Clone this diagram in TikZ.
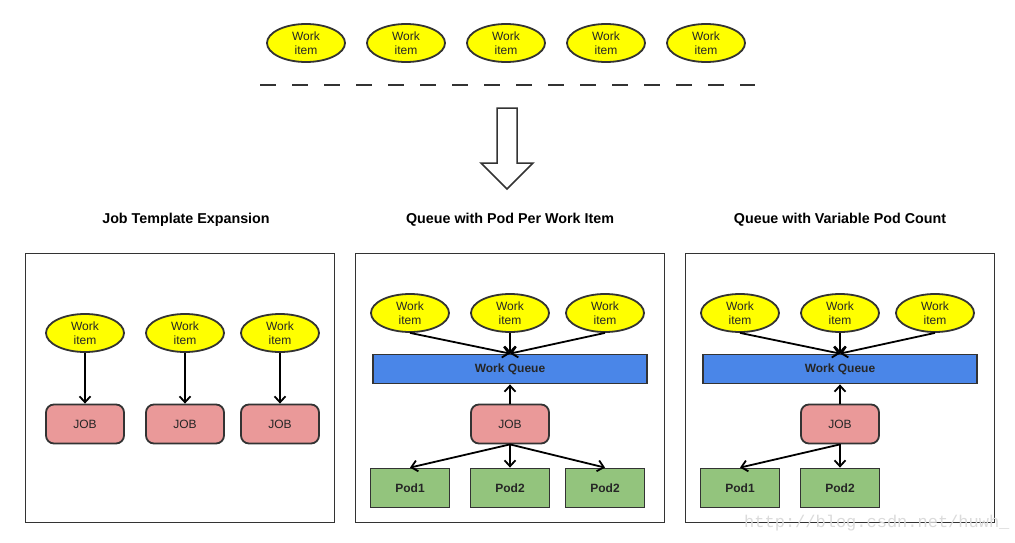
\documentclass[tikz,border=0pt]{standalone}
\usepackage{fontspec}
\setmainfont{Liberation Sans}
\newfontfamily\wmfont{Liberation Mono}
\usetikzlibrary{shapes.geometric,arrows.meta}
\definecolor{edge}{HTML}{333333}
\definecolor{wiyellow}{HTML}{FFFF00}
\definecolor{wqblue}{HTML}{4A86E8}
\definecolor{jobred}{HTML}{EA9999}
\definecolor{podgreen}{HTML}{93C47D}
\tikzset{
  witem/.style={ellipse, draw=edge, line width=1.8pt, fill=wiyellow, minimum width=78pt, minimum height=38pt, inner sep=0pt, align=center, font=\fontsize{12}{13.5}\selectfont, text=black!85},
  jobbox/.style={rectangle, rounded corners=8pt, draw=edge, line width=1.8pt, fill=jobred, minimum width=78pt, minimum height=39pt, font=\fontsize{12}{13}\selectfont, text=black!85},
  podbox/.style={rectangle, draw=edge, line width=1.8pt, fill=podgreen, minimum width=79pt, minimum height=39pt, font=\bfseries\fontsize{12}{13}\selectfont, text=black!85},
  queuebox/.style={rectangle, draw=edge, line width=1.8pt, fill=wqblue, minimum width=274pt, minimum height=29pt, font=\bfseries\fontsize{12}{13}\selectfont, text=black!85},
  panel/.style={rectangle, draw=edge, line width=1.8pt, minimum width=309pt, minimum height=269pt},
  ptitle/.style={font=\bfseries\fontsize{14.3}{16}\selectfont, text=black},
  conn/.style={line width=1.8pt, -{Straight Barb[length=6pt,width=11pt,line width=1.8pt]}},
}
\begin{document}
\begin{tikzpicture}[x=1pt,y=-1pt]
\useasboundingbox[fill=white] (0,0) rectangle (1015,543);
% top work items
\foreach \i/\x in {1/306,2/406,3/506,4/606,5/706}{
  \node[witem] (t\i) at (\x,43) {Work\\item};
}
\coordinate (dl) at (260,85);
\coordinate (dr) at (755,85);
\draw[line width=2pt, edge, dash pattern=on 16pt off 16pt] (dl) -- (dr);
% big arrow
\draw[line width=1.5pt, edge, fill=white] (497,108) -- (517,108) -- (517,163) -- (533,163) -- (507,189) -- (481,163) -- (497,163) -- cycle;
% titles
\node[ptitle] (h1) at (186,220) {Job Template Expansion};
\node[ptitle] (h2) at (510,220) {Queue with Pod Per Work Item};
\node[ptitle] (h3) at (840,220) {Queue with Variable Pod Count};
% panels
\node[panel] (p1) at (180,388) {};
\node[panel] (p2) at (510,388) {};
\node[panel] (p3) at (840,388) {};
% panel 1
\foreach \i/\x in {1/85,2/185,3/280}{
  \node[witem] (a\i) at (\x,333) {Work\\item};
  \node[jobbox] (j\i) at (\x,424) {JOB};
  \draw[conn] (a\i) -- (j\i);
}
% panel 2
\node[queuebox] (q2) at (510,369) {Work Queue};
\foreach \i/\x in {1/410,2/510,3/605}{
  \node[witem] (b\i) at (\x,313) {Work\\item};
  \draw[conn] (b\i.south) -- (q2.north);
}
\node[jobbox] (jb2) at (510,424) {JOB};
\draw[conn] (jb2) -- (q2);
\node[podbox] (pa1) at (410,488) {Pod1};
\node[podbox] (pa2) at (510,488) {Pod2};
\node[podbox] (pa3) at (605,488) {Pod2};
\foreach \i in {1,2,3}{ \draw[conn] (jb2.south) -- (pa\i.north); }
% panel 3
\node[queuebox] (q3) at (840,369) {Work Queue};
\foreach \i/\x in {1/740,2/840,3/935}{
  \node[witem] (c\i) at (\x,313) {Work\\item};
  \draw[conn] (c\i.south) -- (q3.north);
}
\node[jobbox] (jb3) at (840,424) {JOB};
\draw[conn] (jb3) -- (q3);
\node[podbox] (pb1) at (740,488) {Pod1};
\node[podbox] (pb2) at (840,488) {Pod2};
\foreach \i in {1,2}{ \draw[conn] (jb3.south) -- (pb\i.north); }
% watermark
\node[anchor=west, inner sep=0pt, text=black!14, font=\wmfont\fontsize{17}{17}\selectfont] (wm) at (744,523) {http://blog.csdn.net/huwh\_};
\end{tikzpicture}
\end{document}
